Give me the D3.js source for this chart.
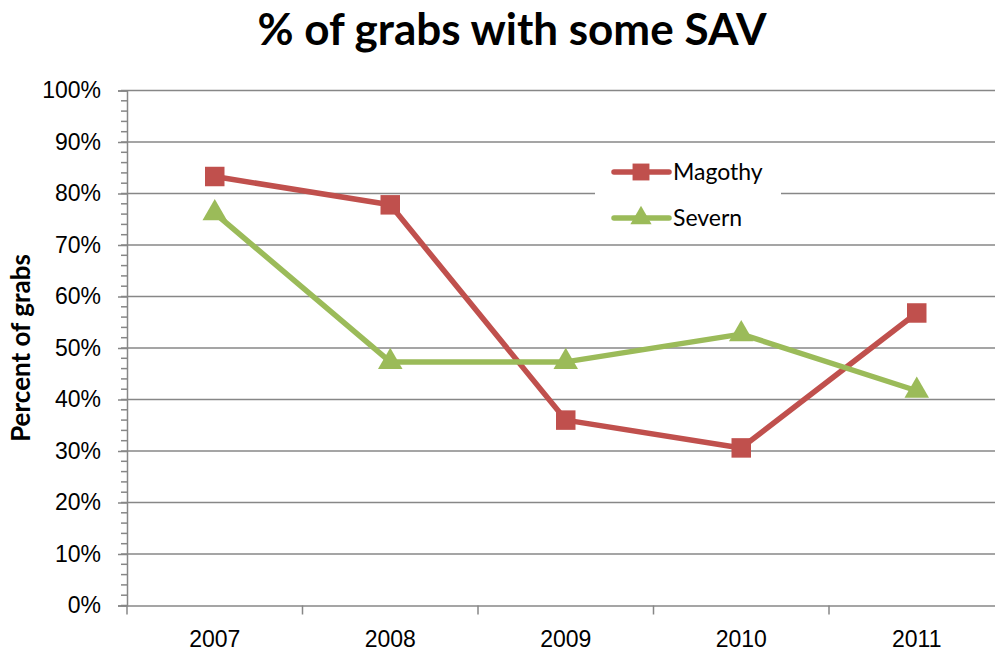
<!DOCTYPE html>
<html>
<head>
<meta charset="utf-8">
<script src="https://cdn.jsdelivr.net/npm/d3@7"></script>
<style>
  body { margin: 0; background: #fff; }
  svg { font-family: Lato, "Open Sans", sans-serif; }
</style>
</head>
<body>
<div id="chart"></div>
<script>
var years = ["2007", "2008", "2009", "2010", "2011"];
var magothy = [0.833, 0.778, 0.36, 0.306, 0.568];
var severn = [0.762, 0.473, 0.473, 0.527, 0.417];
var yTicks = [0, 0.1, 0.2, 0.3, 0.4, 0.5, 0.6, 0.7, 0.8, 0.9, 1.0];

var margin = {top: 90.5, left: 127},
    width = 877.5,
    height = 515;

var svg = d3.select("#chart").append("svg")
    .attr("width", 995)
    .attr("height", 652);

svg.append("text")
    .attr("x", 512)
    .attr("y", 45)
    .attr("text-anchor", "middle")
    .style("font-size", "44px")
    .style("font-weight", "bold")
    .text("% of grabs with some SAV");

svg.append("text")
    .attr("transform", "translate(30," + (margin.top + height / 2) + ") rotate(-90)")
    .attr("text-anchor", "middle")
    .style("font-size", "26px")
    .style("font-weight", "bold")
    .text("Percent of grabs");

var g = svg.append("g")
    .attr("transform", "translate(" + margin.left + "," + margin.top + ")");

var x = d3.scaleBand().domain(years).range([0, width]);
var y = d3.scaleLinear().domain([0, 1]).range([height, 0]);

// gridlines
g.selectAll(".grid")
    .data(yTicks.slice(1))
    .join("line")
    .attr("class", "grid")
    .attr("x1", 0)
    .attr("x2", width)
    .attr("y1", function(d){ return y(d); })
    .attr("y2", function(d){ return y(d); })
    .attr("stroke", "#878787")
    .attr("stroke-width", 1.5);

// minor ticks
var minor = d3.range(0, 51).map(function(i){ return i / 50; });
g.selectAll(".minor")
    .data(minor)
    .join("line")
    .attr("x1", -6)
    .attr("x2", 0)
    .attr("y1", function(d){ return y(d); })
    .attr("y2", function(d){ return y(d); })
    .attr("stroke", "#878787")
    .attr("stroke-width", 1.5);

var yAxis = d3.axisLeft(y)
    .tickValues(yTicks)
    .tickFormat(d3.format(".0%"))
    .tickSize(9)
    .tickPadding(17);

var yg = g.append("g").call(yAxis);
yg.select(".domain").attr("stroke", "#878787").attr("stroke-width", 1.5);
yg.selectAll(".tick line").attr("stroke", "#878787").attr("stroke-width", 1.5);
yg.selectAll("text").style("font-size", "23px").attr("fill", "#000");

var xAxis = d3.axisBottom(x).tickSize(0).tickPadding(25);
var xg = g.append("g")
    .attr("transform", "translate(0," + height + ")")
    .call(xAxis);
xg.select(".domain").attr("stroke", "#878787").attr("stroke-width", 1.5);
xg.selectAll("text").style("font-size", "23px").attr("fill", "#000");

// category boundary ticks
var bounds = years.map(function(d){ return x(d); }).concat([width]);
g.selectAll(".xtick")
    .data(bounds)
    .join("line")
    .attr("x1", function(d){ return d; })
    .attr("x2", function(d){ return d; })
    .attr("y1", height)
    .attr("y2", height + 9)
    .attr("stroke", "#878787")
    .attr("stroke-width", 1.5);

function cx(d, i){ return x(years[i]) + x.bandwidth() / 2; }

var line = d3.line()
    .x(function(d, i){ return cx(d, i); })
    .y(function(d){ return y(d); });

var series = [
  {name: "Magothy", values: magothy, color: "#C0504D", symbol: d3.symbolSquare, size: 380},
  {name: "Severn", values: severn, color: "#9BBB59", symbol: d3.symbolTriangle, size: 260}
];

series.forEach(function(s){
  g.append("path")
      .datum(s.values)
      .attr("d", line)
      .attr("fill", "none")
      .attr("stroke", s.color)
      .attr("stroke-width", 5.5)
      .attr("stroke-linejoin", "round");

  g.selectAll(".pt-" + s.name)
      .data(s.values)
      .join("path")
      .attr("transform", function(d, i){ return "translate(" + cx(d, i) + "," + y(d) + ")"; })
      .attr("d", d3.symbol().type(s.symbol).size(s.size))
      .attr("fill", s.color);
});

// legend
var legend = svg.append("g").attr("transform", "translate(595,151)");
legend.append("rect")
    .attr("width", 186)
    .attr("height", 88)
    .attr("fill", "#fff");

series.forEach(function(s, i){
  var ly = 21 + i * 46;
  legend.append("line")
      .attr("x1", 19).attr("x2", 74)
      .attr("y1", ly).attr("y2", ly)
      .attr("stroke", s.color)
      .attr("stroke-width", 5.5)
      .attr("stroke-linecap", "round");
  legend.append("path")
      .attr("transform", "translate(46," + ly + ")")
      .attr("d", d3.symbol().type(s.symbol).size(s.size * 0.75))
      .attr("fill", s.color);
  legend.append("text")
      .attr("x", 78)
      .attr("y", ly + 8)
      .style("font-size", "23px")
      .text(s.name);
});
</script>
</body>
</html>
